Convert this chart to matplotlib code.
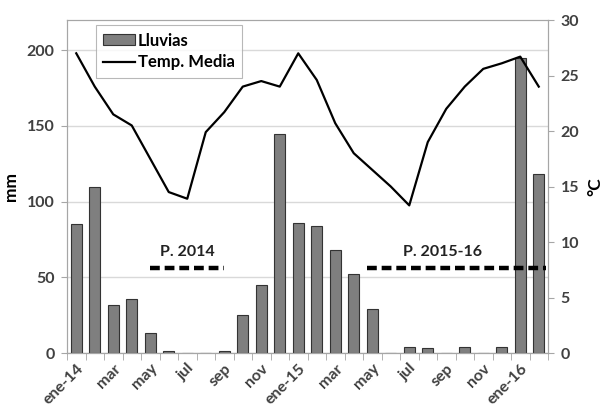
import matplotlib
matplotlib.use("Agg")
import matplotlib.pyplot as plt
import numpy as np
from matplotlib.lines import Line2D
from matplotlib.patches import Patch

plt.rcParams['font.family'] = ['Lato', 'DejaVu Sans']
plt.rcParams['font.weight'] = 'bold'

# Monthly data, ene-14 .. feb-16
months = ["ene-14", "feb", "mar", "abr", "may", "jun", "jul", "ago", "sep", "oct", "nov", "dic",
          "ene-15", "feb", "mar", "abr", "may", "jun", "jul", "ago", "sep", "oct", "nov", "dic",
          "ene-16", "feb"]
lluvias = [85, 110, 32, 36, 13, 1, 0, 0, 1, 25, 45, 145,
           86, 84, 68, 52, 29, 0.3, 4, 3, 0.3, 4, 0, 4,
           195, 118]
temp_media = [27.0, 24.0, 21.5, 20.5, 17.5, 14.5, 13.9, 19.9, 21.7, 24.0, 24.5, 24.0,
              27.0, 24.6, 20.7, 18.0, 16.5, 15.0, 13.3, 19.0, 22.0, 24.0, 25.6, 26.1,
              26.7, 24.0]
periodos = ["P. 2014", "P. 2015-16"]
periodo_x = [(4.0, 8.0), (15.7, 25.4)]
periodo_label_x = [6.0, 19.8]
periodo_mm = 56

text_col = "#404040"
x = np.arange(len(months))

fig = plt.figure(figsize=(6.02, 4.11), dpi=100)
ax = fig.add_axes([0.1113, 0.1411, 0.799, 0.8102])
ax2 = ax.twinx()

ax.bar(x, lluvias, width=0.62, color="#7f7f7f", edgecolor="#333333", linewidth=0.8, zorder=3)
ax.set_xlim(-0.5, len(months) - 0.5)
ax.set_ylim(0, 220)
ax.set_yticks([0, 50, 100, 150, 200])
ax.yaxis.grid(True, color="#d9d9d9", linewidth=1, zorder=0)
ax.set_axisbelow(True)

ax2.plot(x, temp_media, color="black", linewidth=1.6, zorder=4)
ax2.set_ylim(0, 30)
ax2.set_yticks([0, 5, 10, 15, 20, 25, 30])

# period markers
for name, (x0, x1), lx in zip(periodos, periodo_x, periodo_label_x):
    ax.plot([x0, x1], [periodo_mm, periodo_mm], color="black", linewidth=3.2,
            linestyle=(0, (2.2, 1.1)), solid_capstyle="butt", dash_capstyle="butt", zorder=5)
    ax.text(lx, periodo_mm + 6, name, ha="center", va="bottom",
            fontsize=11.5, fontweight="bold", color="#222222", zorder=6)

# x ticks: labels every two months, tick marks at category boundaries
ax.set_xticks(x[::2])
ax.set_xticklabels([months[i] for i in x[::2]], rotation=45, ha="right", rotation_mode="anchor",
                   fontsize=11.5, color=text_col)
ax.tick_params(axis="x", length=0, pad=6)
ax.set_xticks(np.arange(-0.5, len(months), 1.0), minor=True)
ax.tick_params(axis="x", which="minor", length=5, color="#a6a6a6")

for spine in ["top", "left", "right", "bottom"]:
    ax.spines[spine].set_color("#a6a6a6")
    ax2.spines[spine].set_color("#a6a6a6")
ax.spines["bottom"].set_color("#808080")

ax.tick_params(axis="y", length=4, color="#a6a6a6", labelsize=11.5, labelcolor=text_col, pad=5)
ax2.tick_params(axis="y", length=4, color="#a6a6a6", labelsize=11.5, labelcolor=text_col, pad=5)
ax.set_ylabel("mm", fontsize=12.5, fontweight="bold", color="black")
ax2.set_ylabel("°C", fontsize=12.5, fontweight="bold", color="black", rotation=90)
ax.yaxis.set_label_coords(-0.1, 0.5)
ax2.yaxis.set_label_coords(1.082, 0.5)

handles = [Patch(facecolor="#7f7f7f", edgecolor="#333333", linewidth=0.8),
           Line2D([0], [0], color="black", linewidth=1.6)]
leg = ax2.legend(handles, ["Lluvias", "Temp. Media"], loc="upper left",
                 bbox_to_anchor=(0.06, 0.985), borderaxespad=0, fontsize=12, frameon=True,
                 fancybox=False, edgecolor="#a6a6a6", handlelength=1.9, handleheight=0.6,
                 handletextpad=0.15, borderpad=0.45, labelspacing=0.35)
leg.get_frame().set_linewidth(0.8)

fig.savefig("out.png", dpi=100)
